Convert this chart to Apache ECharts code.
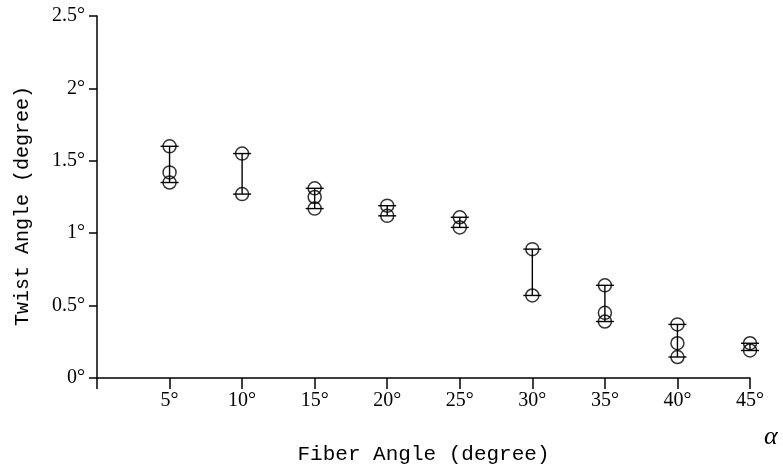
<!DOCTYPE html>
<html>
<head>
<meta charset="utf-8">
<script src="https://cdn.jsdelivr.net/npm/echarts@6/dist/echarts.min.js"></script>
<style>
  html, body { margin: 0; padding: 0; background: #fff; }
  #main { width: 783px; height: 473px; }
</style>
</head>
<body>
<div id="main"></div>
<script>
var myChart = echarts.init(document.getElementById('main'));

// fiber angles (degree) and the measured twist angles at each one
var fiberAngles = [5, 10, 15, 20, 25, 30, 35, 40, 45];
var twist05 = [1.60, 1.42, 1.35];
var twist10 = [1.55, 1.27];
var twist15 = [1.31, 1.25, 1.17];
var twist20 = [1.19, 1.12];
var twist25 = [1.11, 1.04];
var twist30 = [0.89, 0.57];
var twist35 = [0.64, 0.45, 0.39];
var twist40 = [0.37, 0.24, 0.145];
var twist45 = [0.24, 0.19];
var measured = [twist05, twist10, twist15, twist20, twist25, twist30, twist35, twist40, twist45];

var points = [];
var ranges = [];
fiberAngles.forEach(function (a, i) {
    var vals = measured[i];
    vals.forEach(function (v) { points.push([a, v]); });
    ranges.push([a, Math.min.apply(null, vals), Math.max.apply(null, vals)]);
});

var serif = '"Liberation Serif", "DejaVu Serif", serif';
var mono = '"Liberation Mono", "DejaVu Sans Mono", monospace';

option = {
    animation: false,
    backgroundColor: '#fff',
    grid: { left: 97, right: 33, top: 16, bottom: 95 },
    xAxis: {
        type: 'value',
        min: 0,
        max: 45,
        interval: 5,
        name: 'Fiber Angle (degree)',
        nameLocation: 'middle',
        nameGap: 66,
        nameTextStyle: { fontFamily: mono, fontSize: 21, color: '#000' },
        splitLine: { show: false },
        axisLine: { lineStyle: { color: '#000', width: 1.5 } },
        axisTick: { length: 11, lineStyle: { color: '#000', width: 1.5 } },
        axisLabel: {
            margin: 13,
            fontFamily: serif,
            fontSize: 20,
            color: '#000',
            formatter: function (v) { return v === 0 ? '' : v + '°'; }
        }
    },
    yAxis: {
        type: 'value',
        min: 0,
        max: 2.5,
        interval: 0.5,
        name: 'Twist Angle (degree)',
        nameLocation: 'middle',
        nameGap: 64,
        nameTextStyle: { fontFamily: mono, fontSize: 20, color: '#000', padding: [0, 18, 0, 0] },
        splitLine: { show: false },
        axisLine: { lineStyle: { color: '#000', width: 1.5 } },
        axisTick: { length: 8, lineStyle: { color: '#000', width: 1.5 } },
        axisLabel: {
            margin: 12,
            fontFamily: serif,
            fontSize: 20,
            color: '#000',
            formatter: function (v) { return v + '°'; }
        }
    },
    graphic: [{
        type: 'text',
        left: 764,
        top: 424,
        style: { text: 'α', font: 'italic 26px "Liberation Serif", serif', fill: '#000' }
    }],
    series: [{
        type: 'custom',
        data: ranges,
        renderItem: function (params, api) {
            var lo = api.coord([api.value(0), api.value(1)]);
            var hi = api.coord([api.value(0), api.value(2)]);
            var w = 9;
            var st = { stroke: '#000', lineWidth: 1.4 };
            return {
                type: 'group',
                children: [
                    { type: 'line', shape: { x1: lo[0], y1: lo[1], x2: hi[0], y2: hi[1] }, style: st },
                    { type: 'line', shape: { x1: lo[0] - w, y1: lo[1], x2: lo[0] + w, y2: lo[1] }, style: st },
                    { type: 'line', shape: { x1: hi[0] - w, y1: hi[1], x2: hi[0] + w, y2: hi[1] }, style: st }
                ]
            };
        },
        z: 2
    }, {
        type: 'scatter',
        data: points,
        symbol: 'circle',
        symbolSize: 13,
        itemStyle: { color: 'rgba(0,0,0,0)', borderColor: '#000', borderWidth: 1.5 },
        z: 3
    }]
};
myChart.setOption(option);
</script>
</body>
</html>
